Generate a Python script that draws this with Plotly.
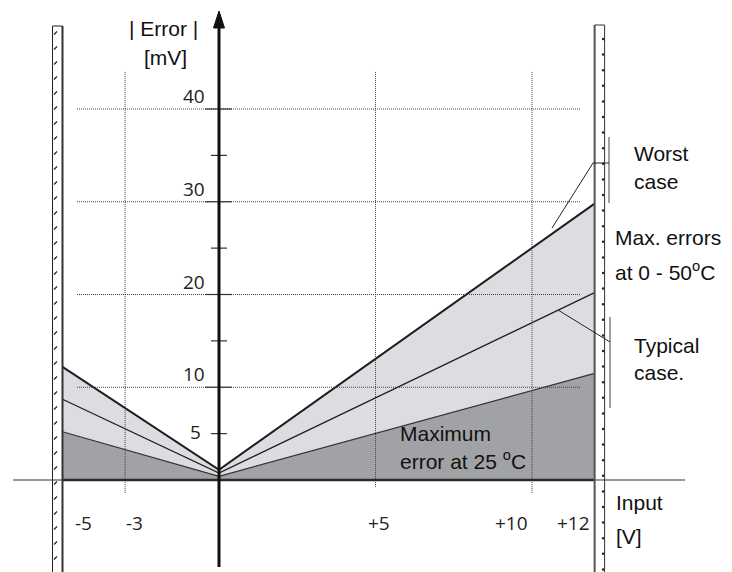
import numpy as np
import plotly.graph_objects as go

# ---------------- data ----------------
input_v = [-5, 0, 12]                 # input voltage [V]
worst_case = [12.2, 1.1, 29.8]        # |Error| mV, worst case 0-50 C
typical_case = [8.7, 0.75, 20.2]      # |Error| mV, typical case
max_error_25c = [5.2, 0.4, 11.5]      # |Error| mV, maximum error at 25 C

x_ticks = [-5, -3, 5, 10, 12]
x_tick_text = ["-5", "-3", "+5", "+10", "+12"]
x_grid = [-3, 5, 10]
y_major = [10, 20, 30, 40]
y_minor = [5, 15, 25, 35]
y_tick_labels = [5, 10, 20, 30, 40]

# ---------------- geometry ----------------
W, H = 732, 572
X0PX, XSC = 219.0, 31.3      # pixel of x=0, px per volt
Y0PX, YSC = 480.0, 9.275     # pixel of y=0, px per mV
xr = [-X0PX / XSC, (W - X0PX) / XSC]
yr = [-(H - Y0PX) / YSC, Y0PX / YSC]

def dx(px):   # pixel -> data x
    return (px - X0PX) / XSC

def dy(py):   # pixel -> data y
    return (Y0PX - py) / YSC

def pp(px, py):  # pixel -> paper
    return px / W, 1 - py / H

LIGHT = "#dcdde0"
DARK = "#a1a2a6"
INK = "#1e1e1e"
GRID = "#404040"

fig = go.Figure()

# light band: between worst-case line and 25C line
fig.add_trace(go.Scatter(
    x=input_v + input_v[::-1], y=worst_case + max_error_25c[::-1],
    fill="toself", fillcolor=LIGHT, line=dict(width=0), mode="lines",
    hoverinfo="skip", showlegend=False))
# dark band: under 25C line
fig.add_trace(go.Scatter(
    x=input_v + [input_v[-1], input_v[0]], y=max_error_25c + [0, 0],
    fill="toself", fillcolor=DARK, line=dict(width=0), mode="lines",
    hoverinfo="skip", showlegend=False))

shapes = []
# dotted grid lines
for g in y_major:
    shapes.append(dict(type="line", xref="x", yref="y", x0=dx(77), x1=dx(581), y0=g, y1=g,
                       line=dict(color=GRID, width=1, dash="1px,1px"), layer="above"))
for g in x_grid:
    shapes.append(dict(type="line", xref="x", yref="y", x0=g, x1=g, y0=44, y1=-1.4 if g != 5 else -0.8,
                       line=dict(color=GRID, width=1, dash="1px,1px"), layer="above"))

fig.add_trace(go.Scatter(x=input_v, y=max_error_25c, mode="lines",
                         line=dict(color="#333333", width=1.2), hoverinfo="skip", showlegend=False))
fig.add_trace(go.Scatter(x=input_v, y=typical_case, mode="lines",
                         line=dict(color=INK, width=1.2), hoverinfo="skip", showlegend=False))
fig.add_trace(go.Scatter(x=input_v, y=worst_case, mode="lines",
                         line=dict(color=INK, width=2), hoverinfo="skip", showlegend=False))

# horizontal axis
shapes.append(dict(type="line", xref="x", yref="y", x0=dx(13), x1=dx(685), y0=0, y1=0,
                   line=dict(color="#333333", width=1.2)))
shapes.append(dict(type="line", xref="x", yref="y", x0=input_v[0], x1=input_v[-1], y0=0, y1=0,
                   line=dict(color="#2a2a2a", width=2.5)))

# walls
wall_w = 10 / XSC
shapes.append(dict(type="rect", xref="x", yref="y", x0=input_v[0] - wall_w, x1=input_v[0],
                   y0=yr[0] - 1, y1=dy(26), line=dict(color="#222222", width=1), fillcolor="rgba(0,0,0,0)"))
shapes.append(dict(type="line", xref="x", yref="y", x0=input_v[0], x1=input_v[0],
                   y0=yr[0] - 1, y1=dy(26), line=dict(color="#333333", width=2)))
shapes.append(dict(type="rect", xref="x", yref="y", x0=input_v[-1], x1=input_v[-1] + wall_w,
                   y0=yr[0] - 1, y1=dy(25), line=dict(color="#333333", width=1), fillcolor="rgba(0,0,0,0)"))
shapes.append(dict(type="line", xref="x", yref="y", x0=input_v[-1], x1=input_v[-1],
                   y0=yr[0] - 1, y1=dy(25), line=dict(color="#555555", width=2)))

# wall hatch marks
lt = np.arange(33, H, 15.0)
fig.add_trace(go.Scatter(x=[input_v[0] - wall_w + 3 / XSC] * len(lt), y=[dy(v) for v in lt],
                         mode="markers", marker=dict(symbol="line-ne", size=3, line=dict(width=1.2, color="#222")),
                         hoverinfo="skip", showlegend=False))
rt = np.arange(39, H, 15.6)
fig.add_trace(go.Scatter(x=[input_v[-1] + 8.5 / XSC] * len(rt), y=[dy(v) for v in rt],
                         mode="markers", marker=dict(symbol="circle", size=2.5, color="#222"),
                         hoverinfo="skip", showlegend=False))

# y axis ticks
for t in y_minor:
    shapes.append(dict(type="line", xref="x", yref="y", x0=-8 / XSC, x1=8 / XSC, y0=t, y1=t,
                       line=dict(color="#333", width=1.2)))
for t in y_major:
    shapes.append(dict(type="line", xref="x", yref="y", x0=-14 / XSC, x1=13 / XSC, y0=t, y1=t,
                       line=dict(color="#333", width=1.2)))

# vertical axis line + arrow head
shapes.append(dict(type="line", xref="x", yref="y", x0=0, x1=0, y0=dy(567), y1=dy(25),
                   line=dict(color="#111", width=3)))
shapes.append(dict(type="path", xref="x", yref="y",
                   path=f"M 0 {dy(11)} L {5.5 / XSC} {dy(28)} L {-5.5 / XSC} {dy(28)} Z",
                   fillcolor="#111", line=dict(color="#111", width=1)))

# pointer lines (worst / typical)
def seg(p1, p2, w=1, c="#222"):
    a = pp(*p1); b = pp(*p2)
    return dict(type="line", xref="paper", yref="paper", x0=a[0], y0=a[1], x1=b[0], y1=b[1],
                line=dict(color=c, width=w))

shapes += [
    seg((609, 137), (609, 203), 1, "#444"),
    seg((552, 228), (593, 163)),
    seg((593, 163), (609, 163)),
    seg((610, 317), (610, 408), 1, "#444"),
    seg((558, 310), (610, 342)),
]

annotations = []
TF = dict(family="Liberation Sans, Arial, sans-serif", size=21, color="#111")
NF = dict(family="Open Sans, Liberation Sans, sans-serif", size=19, color="#222")

def txt(s, px, py, anchor="left", font=TF):
    x, y = pp(px, py)
    annotations.append(dict(text=s, x=x, y=y, xref="paper", yref="paper", xanchor=anchor,
                            yanchor="middle", showarrow=False, font=font))

txt("| Error |", 163, 28, "center")
txt("[mV]", 165, 57, "center")
txt("Worst", 632, 153)
txt("case", 632, 182)
txt("Max. errors", 613, 238)
txt("at 0 - 50<sup>o</sup>C", 613, 271)
txt("Typical", 632, 345)
txt("case.", 632, 372)
txt("Maximum", 398, 433)
txt("error at 25 <sup>o</sup>C", 398, 460)
txt("Input", 614, 502)
txt("[V]", 614, 536)

# y tick labels
for v in y_tick_labels:
    annotations.append(dict(text=str(v), x=0, y=v, xref="x", yref="y", xanchor="right", yanchor="middle",
                            xshift=-16 if v == 5 else -12, yshift=2 if v == 5 else 13,
                            showarrow=False, font=NF))
# x tick labels
x_shift = {-5: 21, -3: 9, 5: 3, 10: -21, 12: -21}
for v, s in zip(x_ticks, x_tick_text):
    annotations.append(dict(text=s, x=v, y=0, xref="x", yref="y", xanchor="center", yanchor="middle",
                            xshift=x_shift[v], yshift=-43, showarrow=False, font=NF))

fig.update_layout(
    width=W, height=H, margin=dict(l=0, r=0, t=0, b=0),
    paper_bgcolor="white", plot_bgcolor="white",
    xaxis=dict(range=xr, visible=False, fixedrange=True),
    yaxis=dict(range=yr, visible=False, fixedrange=True),
    shapes=shapes, annotations=annotations, showlegend=False,
)

fig.write_html("out.html", config={"displayModeBar": False},
               post_script="document.body.style.margin='0';")
